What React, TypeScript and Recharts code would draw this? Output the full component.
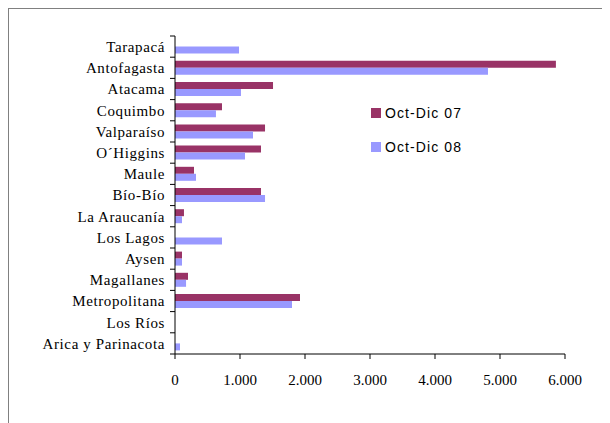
import React from 'react';
import { BarChart, Bar, XAxis, YAxis } from 'recharts';

const categories = [
  'Tarapacá',
  'Antofagasta',
  'Atacama',
  'Coquimbo',
  'Valparaíso',
  'O´Higgins',
  'Maule',
  'Bío-Bío',
  'La Araucanía',
  'Los Lagos',
  'Aysen',
  'Magallanes',
  'Metropolitana',
  'Los Ríos',
  'Arica y Parinacota',
];

const octDic07 = [null, 5860, 1508, 723, 1385, 1323, 292, 1323, 138, null, 108, 200, 1923, null, null];
const octDic08 = [985, 4815, 1015, 630, 1200, 1077, 323, 1385, 108, 723, 108, 170, 1800, null, 77];

const xTicks = [0, 1000, 2000, 3000, 4000, 5000, 6000];

const series = [
  { key: 'oct07', name: 'Oct-Dic 07', color: '#993366' },
  { key: 'oct08', name: 'Oct-Dic 08', color: '#9999FF' },
];

const data = categories.map((region, i) => ({
  region,
  oct07: octDic07[i],
  oct08: octDic08[i],
}));

// the frame runs off the right and bottom edges of the page, so keep scrollbars away
document.documentElement.style.overflow = 'hidden';

const W = 660;
const H = 430;
const PLOT_H = 318;
const BAND = PLOT_H / categories.length;
const SERIF = '"Liberation Serif", "Times New Roman", serif';
const SANS = '"Liberation Sans", Arial, sans-serif';

function formatThousands(v: number) {
  return v === 0 ? '0' : `${v / 1000}.000`;
}

// Excel-style category tick: label centred in the band, tick marks on band edges
function CategoryTick(props: any) {
  const { x, y, payload, index } = props;
  const last = index === categories.length - 1;
  return (
    <g>
      <text
        x={x - 10}
        y={y}
        dy="0.355em"
        textAnchor="end"
        fontFamily={SERIF}
        fontSize={15}
        letterSpacing={0.6}
        fill="#000"
      >
        {payload.value}
      </text>
      <line x1={x - 5} x2={x} y1={y - BAND / 2} y2={y - BAND / 2} stroke="#000" />
      {last && <line x1={x - 5} x2={x} y1={y + BAND / 2} y2={y + BAND / 2} stroke="#000" />}
    </g>
  );
}

function LegendBox() {
  return (
    <div
      style={{
        position: 'absolute',
        left: 362,
        top: 94,
        fontFamily: SANS,
        fontSize: 14,
        letterSpacing: 1.1,
        color: '#000',
      }}
    >
      {series.map((s) => (
        <div key={s.key} style={{ display: 'flex', alignItems: 'center', height: 20, marginBottom: 13.5 }}>
          <span style={{ width: 10, height: 10, background: s.color, marginRight: 4 }} />
          <span>{s.name}</span>
        </div>
      ))}
    </div>
  );
}

function TitleText() {
  return (
    <div
      style={{
        position: 'absolute',
        top: -22,
        left: 139,
        fontFamily: SERIF,
        fontWeight: 'bold',
        fontSize: 15,
        whiteSpace: 'nowrap',
        color: '#000',
      }}
    >
      (Millones de Dólares Corrientes)
    </div>
  );
}

export default function App() {
  return (
    <div
      style={{
        position: 'relative',
        width: W,
        height: H,
        borderTop: '1px solid #808080',
        borderLeft: '1px solid #808080',
        boxSizing: 'border-box',
      }}
    >
      <TitleText />
      <div style={{ position: 'absolute', top: -1, left: -1 }}>
        <BarChart
          width={W}
          height={H}
          data={data}
          layout="vertical"
          margin={{ top: 28, right: W - 557, left: 0, bottom: H - 346 - 30 }}
          barCategoryGap={3.6}
          barGap={0}
        >
          <XAxis
            type="number"
            domain={[0, 6000]}
            ticks={xTicks}
            tickFormatter={formatThousands}
            height={30}
            stroke="#000"
            tickSize={5}
            tickMargin={15}
            tick={{ fontFamily: SERIF, fontSize: 15, fill: '#000' }}
            interval={0}
          />
          <YAxis
            type="category"
            dataKey="region"
            width={167}
            stroke="#000"
            tickLine={false}
            tickSize={0}
            tickMargin={0}
            tick={<CategoryTick />}
            interval={0}
          />
          {series.map((s) => (
            <Bar key={s.key} dataKey={s.key} name={s.name} fill={s.color} isAnimationActive={false} />
          ))}
        </BarChart>
      </div>
      <LegendBox />
    </div>
  );
}
